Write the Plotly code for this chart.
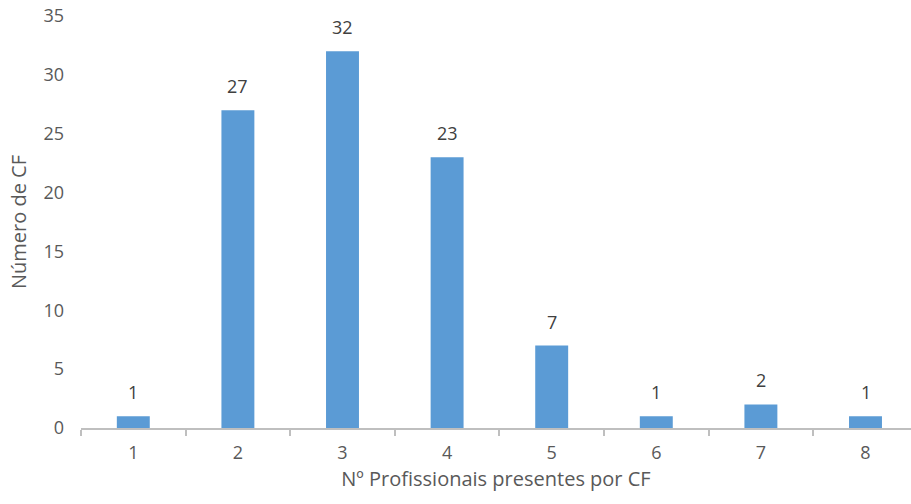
import plotly.graph_objects as go

# Number of professionals present per CF and how many CFs had that count
profissionais = ["1", "2", "3", "4", "5", "6", "7", "8"]
numero_cf = [1, 27, 32, 23, 7, 1, 2, 1]
y_ticks = [0, 5, 10, 15, 20, 25, 30, 35]

FONT = "Open Sans"
BAR_COLOR = "#5B9BD5"
TEXT_COLOR = "#595959"

fig = go.Figure(
    go.Bar(
        x=profissionais,
        y=numero_cf,
        width=0.315,
        marker=dict(color=BAR_COLOR, line=dict(width=0)),
        hoverinfo="x+y",
    )
)

# value labels above each bar (category axis: position by index)
for i, val in enumerate(numero_cf):
    fig.add_annotation(
        x=i, y=val, text=str(val), showarrow=False,
        yanchor="middle", yshift=24,
        font=dict(family=FONT, size=18, color="#404040"),
    )

fig.update_layout(
    width=911, height=504,
    margin=dict(l=81, r=0, t=16, b=76),
    plot_bgcolor="white", paper_bgcolor="white",
    showlegend=False,
    font=dict(family=FONT, size=18, color=TEXT_COLOR),
)

fig.update_xaxes(
    type="category",
    range=[-0.5, 7.435],
    showline=True, linecolor="#BFBFBF", linewidth=1.5,
    ticks="outside", tickson="boundaries", ticklen=6, tickcolor="#BFBFBF",
    tickwidth=1.5,
    showgrid=False, zeroline=False,
    ticklabelstandoff=8,
    tickfont=dict(family=FONT, size=18, color=TEXT_COLOR),
    title=dict(text="Nº Profissionais presentes por CF", standoff=9,
               font=dict(family=FONT, size=20, color=TEXT_COLOR)),
    automargin=False,
)

fig.update_yaxes(
    range=[0, 35],
    tickvals=y_ticks,
    showline=False, showgrid=False, zeroline=False,
    ticks="", ticklabelstandoff=16,
    tickfont=dict(family=FONT, size=18, color=TEXT_COLOR),
    title=dict(text="Número de CF", standoff=11,
               font=dict(family=FONT, size=20, color=TEXT_COLOR)),
    automargin=False,
)

fig.write_html("out.html")
